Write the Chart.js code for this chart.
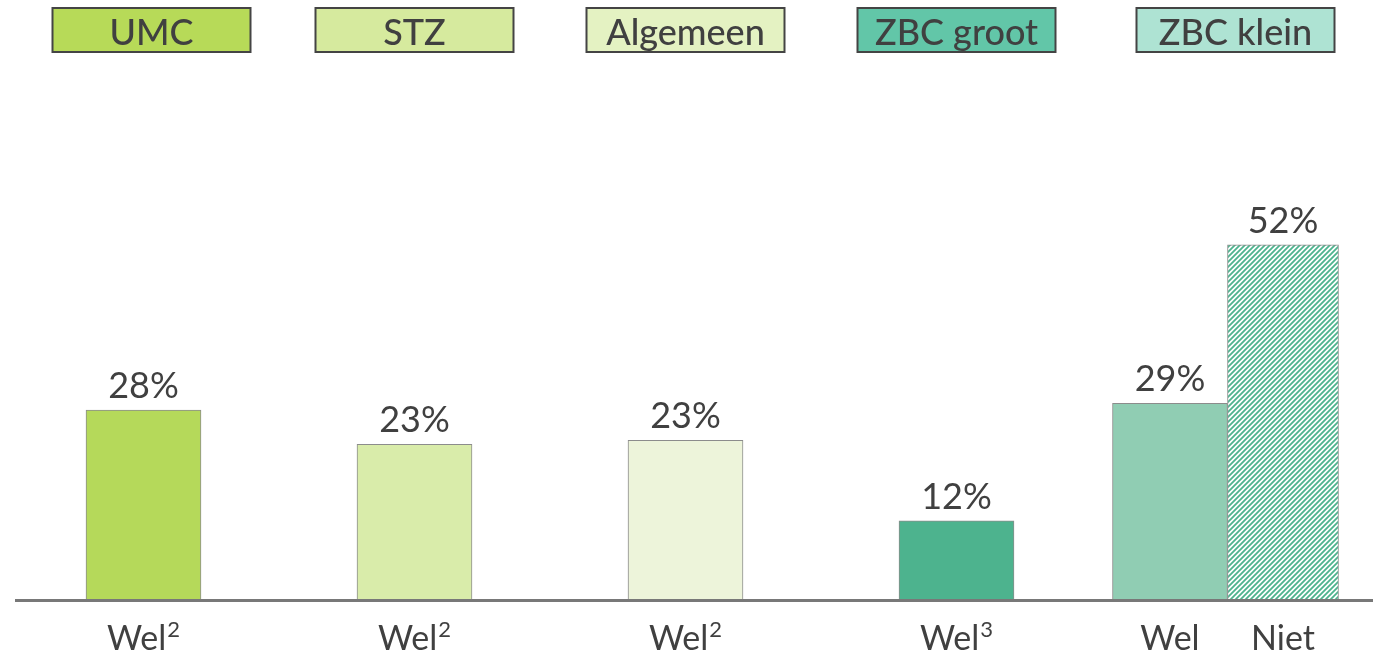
<!DOCTYPE html>
<html>
<head>
<meta charset="utf-8">
<script src="https://cdn.jsdelivr.net/npm/chart.js@4.4.1/dist/chart.umd.min.js"></script>
<style>
    body { margin: 0; background: #fff; }
    #wrap { width: 1373px; height: 656px; position: relative; }
</style>
</head>
<body>
<div id="wrap"><canvas id="chart-zh"></canvas></div>
<script>
'use strict';
// groepen en waarden (percentages)
let categories = ['UMC', 'STZ', 'Algemeen', 'ZBC groot', 'ZBC klein'];
let welValues  = [27.8, 22.8, 23.4, 11.6, 28.8];
let nietValues = [null, null, null, null, 52.0];
let welNotes   = ['2', '2', '2', '3', ''];
let seriesNames = ['Wel', 'Niet'];

let barColors    = ['#b5d95a', '#d9ecaa', '#edf4da', '#4db38e', '#90cdb3'];
let legendColors = ['#b7da58', '#d6ea9e', '#e4f2c2', '#62c6a8', '#aee3d3'];
let textColor = '#404040';

function HatchPattern(){
    let c = document.createElement('canvas');
    c.width = 5; c.height = 5;
    let g = c.getContext('2d');
    g.fillStyle = '#fff';
    g.fillRect(0, 0, 5, 5);
    g.strokeStyle = '#4db38e';
    g.lineWidth = 1.8;
    g.beginPath();
    g.moveTo(-1, 6); g.lineTo(6, -1);
    g.moveTo(-4, 4); g.lineTo(4, -4);
    g.moveTo(1, 9); g.lineTo(9, 1);
    g.stroke();
    return g.createPattern(c, 'repeat');
}

let labelsPlugin = {
    id: 'labelsPlugin',
    afterDatasetsDraw(chart){
        let ctx = chart.ctx;
        let x = chart.scales.x;
        let area = chart.chartArea;

        // basislijn
        ctx.save();
        ctx.strokeStyle = '#787878';
        ctx.lineWidth = 3;
        ctx.beginPath();
        ctx.moveTo(area.left + 7, area.bottom + 0.5);
        ctx.lineTo(chart.width, area.bottom + 0.5);
        ctx.stroke();

        // legenda-vakken boven de groepen
        categories.forEach((cat, i) => {
            let cx = x.getPixelForValue(i) + (i === 0 || i === 4 ? 8 : 0);
            ctx.fillStyle = legendColors[i];
            ctx.fillRect(cx - 99, 8, 198, 44);
            ctx.strokeStyle = '#444';
            ctx.lineWidth = 2;
            ctx.strokeRect(cx - 99, 8, 198, 44);
            ctx.fillStyle = textColor;
            ctx.font = '500 36px Lato';
            ctx.textAlign = 'center';
            ctx.textBaseline = 'alphabetic';
            ctx.fillText(cat, cx, 45);
        });

        // waarden boven en namen onder de staven
        chart.data.datasets.forEach((ds, d) => {
            let meta = chart.getDatasetMeta(d);
            meta.data.forEach((bar, i) => {
                let v = ds.data[i];
                if(v === null || v === undefined) return;
                ctx.fillStyle = textColor;
                ctx.textAlign = 'center';
                ctx.font = '36px Lato';
                ctx.fillText(Math.round(v) + '%', bar.x, bar.y - 12);

                let name = seriesNames[d];
                let note = d === 0 ? welNotes[i] : '';
                ctx.font = '34px Lato';
                let w1 = ctx.measureText(name).width;
                ctx.font = '22px Lato';
                let w2 = note ? ctx.measureText(note).width + 1 : 0;
                let left = bar.x - (w1 + w2) / 2;
                ctx.textAlign = 'left';
                ctx.font = '34px Lato';
                ctx.fillText(name, left, 650);
                if(note){
                    ctx.font = '22px Lato';
                    ctx.fillText(note, left + w1 + 1, 637);
                }
            });
        });
        ctx.restore();
    }
};

let ctx = document.getElementById('chart-zh').getContext('2d');
let chartZH = new Chart(ctx, {
    type: 'bar',
    data: {
        labels: categories,
        datasets: [{
            label: seriesNames[0],
            data: welValues,
            backgroundColor: barColors,
            borderColor: '#8c8c8c',
            borderWidth: 1,
            skipNull: true,
            barThickness: 115
        }, {
            label: seriesNames[1],
            data: nietValues,
            backgroundColor: HatchPattern(),
            borderColor: '#8c8c8c',
            borderWidth: 1,
            skipNull: true,
            barThickness: 111
        }]
    },
    options: {
        responsive: true,
        maintainAspectRatio: false,
        animation: false,
        layout: { padding: { top: 122, bottom: 56, left: 8, right: 10 } },
        plugins: { legend: { display: false }, tooltip: { enabled: false } },
        scales: {
            x: { display: false },
            y: { display: false, min: 0, max: 70 }
        }
    },
    plugins: [labelsPlugin]
});
</script>
</body>
</html>
